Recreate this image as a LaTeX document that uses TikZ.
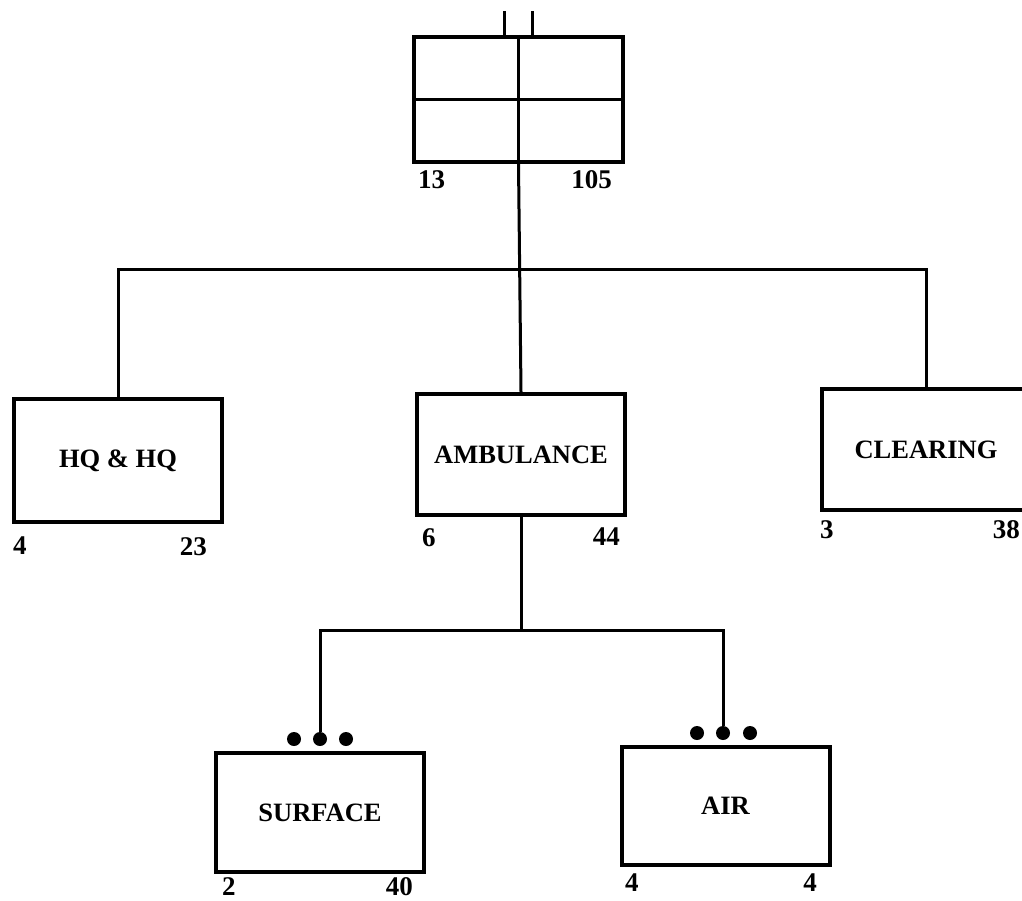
\documentclass[tikz,border=0pt]{standalone}
\usepackage{fontspec}
\setmainfont{Liberation Serif}
\usetikzlibrary{calc}
\begin{document}
\begin{tikzpicture}[x=1pt,y=-1pt,
 unit/.style={draw,line width=4pt,minimum width=208pt,minimum height=121pt,inner sep=0pt,font=\bfseries\fontsize{26.5}{30}\selectfont},
 num/.style={font=\bfseries\fontsize{27}{30}\selectfont,inner sep=0pt},
 link/.style={line width=3pt},
 dot/.style={circle,fill,inner sep=0pt,minimum size=14pt}]
\useasboundingbox (0,0) rectangle (1022,901);
% top unit
\node[unit,minimum width=209pt,minimum height=125pt] (top) at (518.5,99.5) {};
\draw[line width=3.5pt] (top.north) -- (top.south);
\draw[line width=3.5pt] (top.west) -- (top.east);
\draw[line width=3.5pt] ($(top.north)+(-14,0)$) -- ++(0,-24);
\draw[line width=3.5pt] ($(top.north)+(14,0)$) -- ++(0,-24);
% second level
\node[unit,minimum height=123pt] (hq) at (118,460.5) {HQ \& HQ};
\node[unit] (amb) at (521,454.5) {AMBULANCE};
\node[unit] (clr) at (926,449.5) {CLEARING};
% third level
\node[unit,minimum height=119pt] (surf) at (320,812.5) {SURFACE};
\node[unit,minimum height=118pt] (air) at (725.5,806) {AIR};
% dots
\node[dot] (s1) at (294,739) {};
\node[dot] (s2) at (320,739) {};
\node[dot] (s3) at (346,739) {};
\node[dot] (a1) at (697,733) {};
\node[dot] (a2) at (723,733) {};
\node[dot] (a3) at (750,733) {};
% connectors
\coordinate (bar) at (519,270);
\coordinate (sub) at (521,630);
\draw[link] (top.south) -- (amb.north);
\draw[link] (hq.north) |- (bar) -| (clr.north);
\draw[link] (amb.south) -- (sub);
\draw[link] (s2.north) |- (sub) -| (a2.north);
% numbers
\node[num,anchor=north west] (n1) at (418,170) {13};
\node[num,anchor=north east] (n2) at (612,170) {105};
\node[num,anchor=north west] (n3) at (13,537) {4};
\node[num,anchor=north east] (n4) at (207,537) {23};
\node[num,anchor=north west] (n5) at (422,528) {6};
\node[num,anchor=north east] (n6) at (620,528) {44};
\node[num,anchor=north west] (n7) at (820,520) {3};
\node[num,anchor=north east] (n8) at (1020,520) {38};
\node[num,anchor=north west] (n9) at (222,877) {2};
\node[num,anchor=north east] (n10) at (413,877) {40};
\node[num,anchor=north west] (n11) at (625,874) {4};
\node[num,anchor=north east] (n12) at (817,874) {4};
\end{tikzpicture}
\end{document}
